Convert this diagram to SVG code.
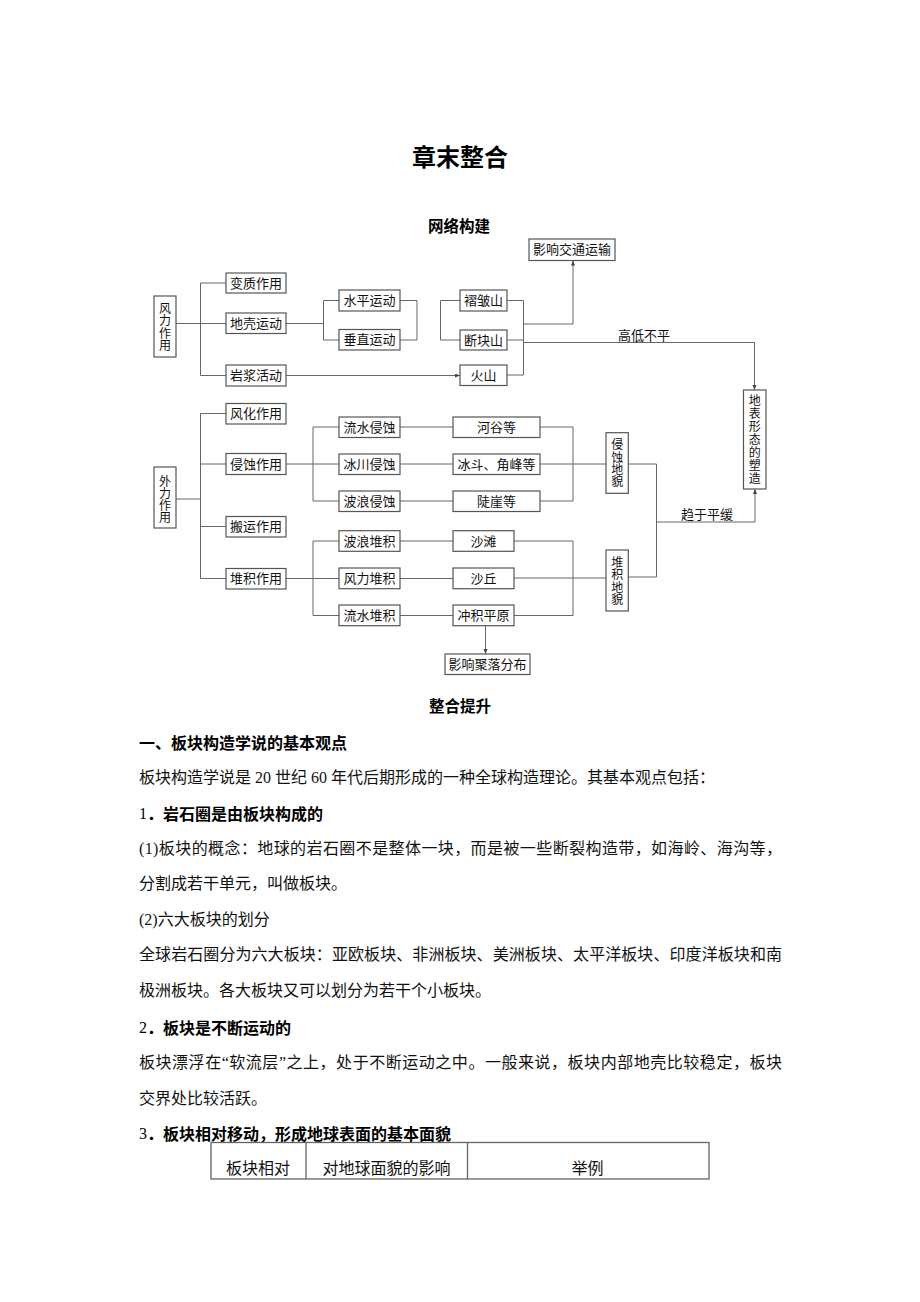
<svg xmlns="http://www.w3.org/2000/svg" width="920" height="1302" viewBox="0 0 920 1302">
<style>
.box{fill:#fff;stroke:#555;stroke-width:1.2}
.ln{fill:none;stroke:#666;stroke-width:1}
.t{font-family:"Liberation Serif","Noto Sans CJK SC",serif;font-size:13px;text-anchor:middle;dominant-baseline:central;fill:#111}
.vt{font-family:"Noto Sans CJK SC",sans-serif;font-size:12px;text-anchor:middle;writing-mode:vertical-rl;text-orientation:upright;fill:#111}
.title{font-family:"Noto Sans CJK SC",sans-serif;font-size:24px;font-weight:bold;text-anchor:middle;dominant-baseline:central;fill:#000}
.sec{font-family:"Noto Sans CJK SC",sans-serif;font-size:15.5px;font-weight:bold;text-anchor:middle;dominant-baseline:central;fill:#000}
.body{font-family:"Liberation Serif","Noto Sans CJK SC",serif;font-size:16px;dominant-baseline:central;fill:#111}
.head{font-family:"Noto Sans CJK SC",sans-serif;font-size:16px;font-weight:bold;dominant-baseline:central;fill:#000}
.num{font-family:"Liberation Serif",serif;font-weight:normal}
.tbl{fill:none;stroke:#666;stroke-width:1.3}
</style>
<defs>
<marker id="arr" markerUnits="userSpaceOnUse" markerWidth="6" markerHeight="5" refX="5" refY="2" orient="auto">
<path d="M0 0 L5 2 L0 4 z" fill="#444"/>
</marker>
</defs>
<rect width="920" height="1302" fill="#fff"/>

<text class="title" x="460" y="155.5">章末整合</text>
<text class="sec" x="459" y="224.5">网络构建</text>

<g id="connectors">
<path class="ln" d="M176 323.5 H200.5 M226 283 H200.5 V375.5 H226 M200.5 323.5 H226"/>
<path class="ln" d="M286 375.5 H460" marker-end="url(#arr)"/>
<path class="ln" d="M286 323.5 H323.5 M339 300.5 H323.5 V340 H339"/>
<path class="ln" d="M400 300.5 H417 V340 H400"/>
<path class="ln" d="M460 300.5 H440.5 V340 H460"/>
<path class="ln" d="M507 300.5 H523.5 V375 H507 M507 340 H523.5"/>
<path class="ln" d="M523.5 324 H573 V260.5" marker-end="url(#arr)"/>
<path class="ln" d="M523.5 342.5 H754.5 V390" marker-end="url(#arr)"/>

<path class="ln" d="M176 499 H200.5 M226 413.5 H200.5 V578.5 H226 M200.5 464 H226 M200.5 526.5 H226"/>
<path class="ln" d="M286 464 H313 M339 427 H313 V501 H339 M313 464 H339"/>
<path class="ln" d="M400 427 H453 M400 464 H453 M400 501 H453"/>
<path class="ln" d="M540 427 H573 V501 H540 M540 464 H606"/>
<path class="ln" d="M628 464 H656.5 V577 H628"/>
<path class="ln" d="M656.5 522 H755 V489" marker-end="url(#arr)"/>
<path class="ln" d="M286 578.5 H313 M339 541 H313 V615.5 H339 M313 578.5 H339"/>
<path class="ln" d="M400 541 H453 M400 578.5 H453 M400 615.5 H453"/>
<path class="ln" d="M514 541 H573 V615.5 H514 M514 578 H606"/>
<path class="ln" d="M485.5 626 V654" marker-end="url(#arr)"/>
<text class="t" x="644" y="335">高低不平</text>
<text class="t" x="707" y="514.5">趋于平缓</text>
</g>

<g id="n-fengli">
<rect class="box" x="154" y="296" width="22" height="61"/>
<text class="vt" x="165" y="327" letter-spacing="0.2">风力作用</text>
</g>
<g id="n-bianzhi"><rect class="box" x="226" y="273" width="60" height="20"/><text class="t" x="256" y="283">变质作用</text></g>
<g id="n-diqiao"><rect class="box" x="226" y="313" width="60" height="20.5"/><text class="t" x="256" y="323.3">地壳运动</text></g>
<g id="n-yanjiang"><rect class="box" x="226" y="365" width="60" height="21"/><text class="t" x="256" y="375.5">岩浆活动</text></g>
<g id="n-shuiping"><rect class="box" x="339" y="290" width="61" height="21"/><text class="t" x="369.5" y="300.5">水平运动</text></g>
<g id="n-chuizhi"><rect class="box" x="339" y="329.5" width="61" height="20.5"/><text class="t" x="369.5" y="339.8">垂直运动</text></g>
<g id="n-zhezhou"><rect class="box" x="460" y="290" width="47" height="21"/><text class="t" x="483.5" y="300.5">褶皱山</text></g>
<g id="n-duankuai"><rect class="box" x="460" y="330" width="47" height="20"/><text class="t" x="483.5" y="340">断块山</text></g>
<g id="n-huoshan"><rect class="box" x="460" y="365" width="47" height="20.5"/><text class="t" x="483.5" y="375.3">火山</text></g>
<g id="n-jiaotong"><rect class="box" x="529" y="239" width="86" height="21.5"/><text class="t" x="572" y="249.7">影响交通运输</text></g>
<g id="n-dibiao">
<rect class="box" x="743.5" y="390" width="22.5" height="99"/>
<text class="vt" x="754.7" y="440" letter-spacing="1">地表形态的塑造</text>
</g>

<g id="n-waili">
<rect class="box" x="154" y="467" width="22" height="61"/>
<text class="vt" x="165" y="499" letter-spacing="0">外力作用</text>
</g>
<g id="n-fenghua"><rect class="box" x="226" y="403.5" width="60" height="20.5"/><text class="t" x="256" y="413.7">风化作用</text></g>
<g id="n-qinshi"><rect class="box" x="226" y="453.5" width="60" height="21"/><text class="t" x="256" y="464">侵蚀作用</text></g>
<g id="n-banyun"><rect class="box" x="226" y="516.5" width="60" height="20.5"/><text class="t" x="256" y="526.7">搬运作用</text></g>
<g id="n-duiji"><rect class="box" x="226" y="568.5" width="60" height="20.5"/><text class="t" x="256" y="578.7">堆积作用</text></g>
<g id="n-lsqs"><rect class="box" x="339" y="417" width="61" height="20.5"/><text class="t" x="369.5" y="427.2">流水侵蚀</text></g>
<g id="n-bcqs"><rect class="box" x="339" y="454" width="61" height="20.5"/><text class="t" x="369.5" y="464.2">冰川侵蚀</text></g>
<g id="n-blqs"><rect class="box" x="339" y="491" width="61" height="20.5"/><text class="t" x="369.5" y="501.2">波浪侵蚀</text></g>
<g id="n-hegu"><rect class="box" x="453" y="417" width="87" height="20.5"/><text class="t" x="496.5" y="427.2">河谷等</text></g>
<g id="n-bingdou"><rect class="box" x="453" y="454" width="87" height="20.5"/><text class="t" x="496.5" y="464.2">冰斗、角峰等</text></g>
<g id="n-douya"><rect class="box" x="453" y="491" width="87" height="20.5"/><text class="t" x="496.5" y="501.2">陡崖等</text></g>
<g id="n-qsdm">
<rect class="box" x="606" y="432.7" width="22.3" height="60.6"/>
<text class="vt" x="617.2" y="463.3" letter-spacing="0.3">侵蚀地貌</text>
</g>
<g id="n-bldj"><rect class="box" x="339" y="530.7" width="61" height="20.6"/><text class="t" x="369.5" y="541">波浪堆积</text></g>
<g id="n-fldj"><rect class="box" x="339" y="568" width="61" height="20.7"/><text class="t" x="369.5" y="578.4">风力堆积</text></g>
<g id="n-lsdj"><rect class="box" x="339" y="605" width="61" height="20.7"/><text class="t" x="369.5" y="615.4">流水堆积</text></g>
<g id="n-shatan"><rect class="box" x="453" y="530.7" width="61" height="20.6"/><text class="t" x="483.5" y="541">沙滩</text></g>
<g id="n-shaqiu"><rect class="box" x="453" y="568" width="61" height="20.7"/><text class="t" x="483.5" y="578.4">沙丘</text></g>
<g id="n-chongji"><rect class="box" x="453" y="605" width="61" height="20.7"/><text class="t" x="483.5" y="615.4">冲积平原</text></g>
<g id="n-djdm">
<rect class="box" x="606" y="550" width="22.3" height="61"/>
<text class="vt" x="617.2" y="581" letter-spacing="0.3">堆积地貌</text>
</g>
<g id="n-juluo"><rect class="box" x="445" y="654" width="85" height="20.5"/><text class="t" x="487.5" y="664.2">影响聚落分布</text></g>

<text class="sec" x="460" y="705.3">整合提升</text>

<g id="body-text">
<text class="head" x="139" y="742">一、板块构造学说的基本观点</text>
<text class="body" x="139" y="777.3">板块构造学说是 20 世纪 60 年代后期形成的一种全球构造理论。其基本观点包括：</text>
<text class="head" x="139" y="812.7"><tspan class="num">1</tspan>．岩石圈是由板块构成的</text>
<text class="body" x="139" y="848.2" textLength="643">(1)板块的概念：地球的岩石圈不是整体一块，而是被一些断裂构造带，如海岭、海沟等，</text>
<text class="body" x="139" y="883.5">分割成若干单元，叫做板块。</text>
<text class="body" x="139" y="919">(2)六大板块的划分</text>
<text class="body" x="139" y="954.4" textLength="643">全球岩石圈分为六大板块：亚欧板块、非洲板块、美洲板块、太平洋板块、印度洋板块和南</text>
<text class="body" x="139" y="990">极洲板块。各大板块又可以划分为若干个小板块。</text>
<text class="head" x="139" y="1026.7"><tspan class="num">2</tspan>．板块是不断运动的</text>
<text class="body" x="139" y="1062" textLength="643">板块漂浮在“软流层”之上，处于不断运动之中。一般来说，板块内部地壳比较稳定，板块</text>
<text class="body" x="139" y="1098">交界处比较活跃。</text>
<text class="head" x="139" y="1133.3"><tspan class="num">3</tspan>．板块相对移动，形成地球表面的基本面貌</text>
</g>

<g id="table">
<rect class="tbl" x="211" y="1142.5" width="498" height="36.5"/>
<path class="tbl" d="M306 1142.5 V1179 M467.5 1142.5 V1179"/>
<text class="body" x="258" y="1168.5" text-anchor="middle">板块相对</text>
<text class="body" x="386.5" y="1168.5" text-anchor="middle">对地球面貌的影响</text>
<text class="body" x="587.5" y="1168.5" text-anchor="middle">举例</text>
</g>
</svg>
